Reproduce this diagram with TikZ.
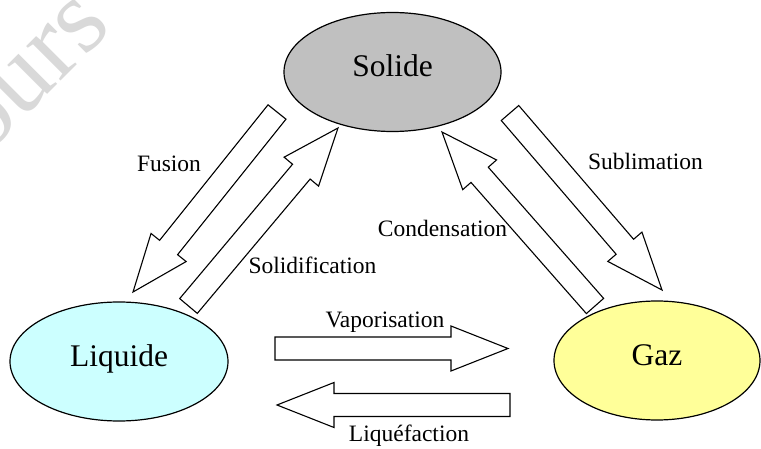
\documentclass[tikz,border=0pt]{standalone}
\usepackage{fontspec}
\setmainfont{Liberation Serif}
\usetikzlibrary{shapes.geometric,calc}
\definecolor{solgray}{RGB}{192,192,192}
\definecolor{liqcyan}{RGB}{204,255,255}
\definecolor{gazyellow}{RGB}{255,255,153}
\definecolor{wmgray}{RGB}{217,217,217}
\newcommand{\blockarrow}[2]{%
  \path ($(#2)!57pt!(#1)$) coordinate (bah);
  \draw[blockarr] ($(#1)!11.5pt!90:(#2)$) -- ($(bah)!11.5pt!90:(#2)$)
    -- ($(bah)!22.5pt!90:(#2)$) -- (#2) -- ($(bah)!22.5pt!-90:(#2)$)
    -- ($(bah)!11.5pt!-90:(#2)$) -- ($(#1)!11.5pt!-90:(#2)$) -- cycle;}
\tikzset{
  state/.style={ellipse, draw=black, line width=1.2pt, inner sep=0pt,
    text height=21pt, text depth=11pt,
    font=\fontsize{31.5pt}{36pt}\selectfont},
  lbl/.style={anchor=base, inner sep=0pt, font=\fontsize{23.5pt}{28pt}\selectfont},
  blockarr/.style={draw=black, fill=white, line width=1.1pt, line join=miter},
  wmark/.style={text=wmgray, font=\fontsize{106pt}{116pt}\selectfont, rotate=45, anchor=base west, inner sep=0pt}
}
\begin{document}
\begin{tikzpicture}[x=1pt,y=-1pt]
\useasboundingbox (0,0) rectangle (761,449);
\clip (0,0) rectangle (761,449);
\fill[white] (0,0) rectangle (761,449);
\node[wmark] (wm) at (-16,158) {ours};
% states
\node[state, fill=solgray, minimum width=217pt, minimum height=119pt] (sol) at (392.5,72) {Solide};
\node[state, fill=liqcyan, minimum width=218pt, minimum height=119pt] (liq) at (119,361.5) {Liquide};
\node[state, fill=gazyellow, minimum width=206pt, minimum height=119pt] (gaz) at (657,360.5) {Gaz};
% arrow ends
\coordinate (fusT) at (277,112);   \coordinate (fusH) at (133,292);
\coordinate (solT) at (188.5,306); \coordinate (solH) at (338,128);
\coordinate (conT) at (595,306);   \coordinate (conH) at (442,132);
\coordinate (subT) at (510,113);   \coordinate (subH) at (662,290);
\coordinate (vapT) at (275,348.5); \coordinate (vapH) at (508,348.5);
\coordinate (liqT) at (510,405);   \coordinate (liqH) at (277,405);
\blockarrow{fusT}{fusH}
\blockarrow{solT}{solH}
\blockarrow{conT}{conH}
\blockarrow{subT}{subH}
\blockarrow{vapT}{vapH}
\blockarrow{liqT}{liqH}
% labels
\node[lbl] (lfus) at (169,172) {Fusion};
\node[lbl] (lsol) at (312.5,274) {Solidification};
\node[lbl] (lcon) at (442.5,237) {Condensation};
\node[lbl] (lsub) at (645.5,170) {Sublimation};
\node[lbl] (lvap) at (385,327) {Vaporisation};
\node[lbl] (lliq) at (409,441) {Liquéfaction};
\end{tikzpicture}
\end{document}
